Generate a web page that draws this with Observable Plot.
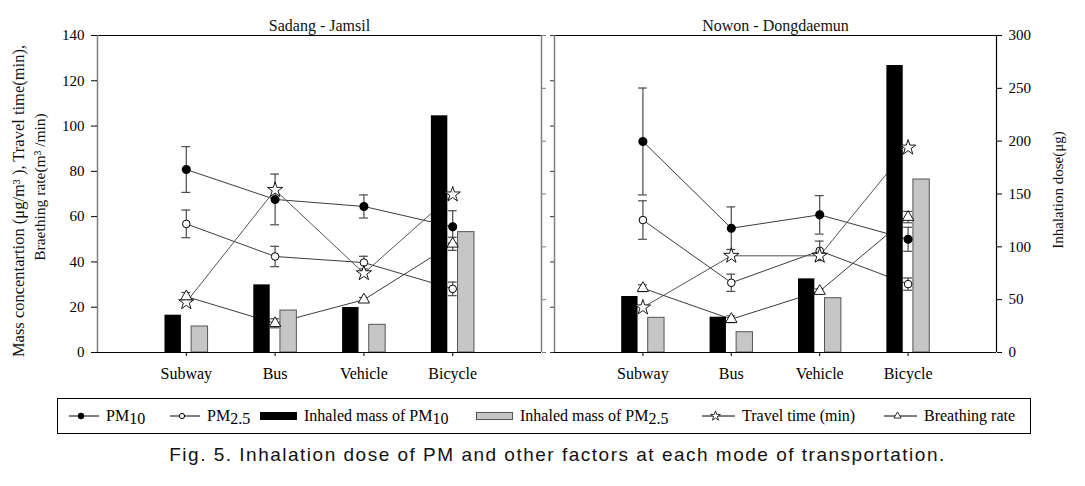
<!DOCTYPE html>
<html>
<head>
<meta charset="utf-8">
<script src="https://cdn.jsdelivr.net/npm/d3@7"></script>
<script src="https://cdn.jsdelivr.net/npm/@observablehq/plot@0.6"></script>
<style>
  body { margin: 0; background: #fff; }
  #wrap { position: relative; width: 1085px; height: 486px; overflow: hidden; background: #fff; font-family: "Liberation Serif", serif; }
  #left { position: absolute; left: 0; top: 0; }
  #right { position: absolute; left: 545px; top: 0; }
  #legend { position: absolute; left: 57px; top: 398px; width: 972px; height: 34px; border: 1px solid #000;
            font-size: 16px; font-family: "Liberation Serif", serif; color: #000; box-sizing: content-box; }
  #legend .item { position: absolute; top: 0; height: 34px; display: flex; align-items: center; white-space: nowrap; }
  #legend .sub { position: relative; top: 3px; }
  #caption { position: absolute; left: 30px; top: 444px; width: 1055px; text-align: center; font-family: "Liberation Sans", sans-serif;
             font-size: 19px; letter-spacing: 1.5px; color: #111; }
</style>
</head>
<body>
<div id="wrap">
  <div id="left"></div>
  <div id="right"></div>
  <div id="legend"></div>
  <div id="caption">Fig. 5. Inhalation dose of PM and other factors at each mode of transportation.</div>
</div>
<script>
// ---------- data ----------
const categories = ["Subway", "Bus", "Vehicle", "Bicycle"];
const leftTicks = [0, 20, 40, 60, 80, 100, 120, 140];
const doseTicks = [0, 50, 100, 150, 200, 250, 300];

// Sadang - Jamsil
const sjPM10 = [80.8, 67.6, 64.5, 55.5];
const sjPM10Err = [10.1, 11.2, 5.1, 7.1];
const sjPM25 = [56.8, 42.4, 39.7, 28.1];
const sjPM25Err = [6.1, 4.5, 2.8, 3.0];
const sjTravel = [22.2, 71.8, 35.0, 69.8];
const sjBreath = [24.7, 12.9, 23.3, 48.0];
const sjBreathErr = [1.8, 2.0, 1.0, 2.9];
const sjDosePM10 = [35.3, 64.0, 42.6, 224.0];
const sjDosePM25 = [24.6, 39.7, 26.2, 113.9];

// Nowon - Dongdaemun
const ndPM10 = [93.2, 54.9, 60.8, 50.0];
const ndPM10Err = [23.6, 9.4, 8.5, 5.3];
const ndPM25 = [58.5, 30.8, 44.9, 30.2];
const ndPM25Err = [8.5, 3.8, 4.3, 2.7];
const ndTravel = [19.9, 42.7, 42.7, 90.5];
const ndBreath = [28.4, 14.7, 27.1, 59.8];
const ndBreathErr = [1.5, 1.5, 1.0, 2.5];
const ndDosePM10 = [53.0, 33.4, 69.7, 271.6];
const ndDosePM25 = [32.8, 19.2, 51.4, 163.7];

// ---------- drawing ----------
const K = 140 / 300; // dose axis (0-300) mapped onto the left axis (0-140)
const lineColor = "#3c3c3c";
const errColor = "#4a4a4a";
const capW = 0.05;

function rowsOf(s) {
  return categories.map((c, i) => ({
    pos: i + 1, cat: c,
    pm10: s.pm10[i], pm10Err: s.pm10Err[i],
    pm25: s.pm25[i], pm25Err: s.pm25Err[i],
    travel: s.travel[i],
    breath: s.breath[i], breathErr: s.breathErr[i],
    dose10: s.dose10[i] * K, dose25: s.dose25[i] * K
  }));
}

function errorBars(rows, v, e) {
  return [
    Plot.ruleX(rows, {x: "pos", y1: d => d[v] - d[e], y2: d => d[v] + d[e], stroke: errColor, strokeWidth: 1.2}),
    Plot.ruleY(rows, {y: d => d[v] + d[e], x1: d => d.pos - capW, x2: d => d.pos + capW, stroke: errColor, strokeWidth: 1.2}),
    Plot.ruleY(rows, {y: d => d[v] - d[e], x1: d => d.pos - capW, x2: d => d.pos + capW, stroke: errColor, strokeWidth: 1.2})
  ];
}

function panel(s, side) {
  const rows = rowsOf(s);
  const isLeft = side === "left";
  const marks = [
    // series lines (drawn under the bars)
    Plot.line(rows, {x: "pos", y: "pm10", stroke: lineColor, strokeWidth: 1}),
    Plot.line(rows, {x: "pos", y: "pm25", stroke: lineColor, strokeWidth: 1}),
    Plot.line(rows, {x: "pos", y: "travel", stroke: "#555", strokeWidth: 1}),
    Plot.line(rows, {x: "pos", y: "breath", stroke: lineColor, strokeWidth: 1}),
    // inhaled mass bars (right axis)
    Plot.rectY(rows, {x1: d => d.pos - 0.24, x2: d => d.pos - 0.055, y1: 0, y2: "dose10", fill: "#000"}),
    Plot.rectY(rows, {x1: d => d.pos + 0.06, x2: d => d.pos + 0.245, y1: 0, y2: "dose25", fill: "#c6c6c6", stroke: "#555", strokeWidth: 1}),
    // error bars
    ...errorBars(rows, "pm10", "pm10Err"),
    ...errorBars(rows, "pm25", "pm25Err"),
    ...errorBars(rows, "breath", "breathErr"),
    // markers
    Plot.dot(rows, {x: "pos", y: "pm10", r: 3.8, fill: "#000", stroke: "#000"}),
    Plot.dot(rows, {x: "pos", y: "pm25", r: 3.8, fill: "#fff", stroke: "#000", strokeWidth: 1}),
    Plot.dot(rows, {x: "pos", y: "travel", symbol: "star", r: 4.8, fill: "#fff", stroke: "#000", strokeWidth: 0.9}),
    Plot.dot(rows, {x: "pos", y: "breath", symbol: "triangle", r: 4.2, fill: "#fff", stroke: "#000", strokeWidth: 0.9}),
    // frame
    Plot.ruleY([0], {stroke: "#000", strokeWidth: 1.2}),
    Plot.ruleY([140], {stroke: "#000", strokeWidth: 1.2}),
    Plot.axisX({ticks: [1, 2, 3, 4], tickFormat: p => categories[p - 1], tickSize: 4, tickPadding: 11, fontSize: 16, label: null}),
    Plot.text([s.title], {frameAnchor: "top", dy: -16, fontSize: 16, fill: "#111"})
  ];
  if (isLeft) {
    marks.push(
      Plot.ruleX([0], {stroke: "#808080", strokeWidth: 1.5}),
      Plot.axisY({anchor: "left", ticks: leftTicks, tickSize: 6, tickPadding: 7, fontSize: 15, label: null}),
      Plot.ruleX([5], {stroke: "#808080", strokeWidth: 1.5}),
      Plot.axisY({anchor: "right", ticks: doseTicks.map(d => d * K), tickFormat: () => "", tickSize: 4, stroke: "#808080", label: null}),
      Plot.text(["Mass concentartion (μg/m³ ), Travel time(min),"], {frameAnchor: "left", textAnchor: "middle", dx: -79, dy: 7, rotate: -90, fontSize: 16.5, fill: "#111"}),
      Plot.text(["Braething rate(m³ /min)"], {frameAnchor: "left", textAnchor: "middle", dx: -57, dy: -7, rotate: -90, fontSize: 15.5, fill: "#111"})
    );
  } else {
    marks.push(
      Plot.ruleX([0], {stroke: "#808080", strokeWidth: 1.5}),
      Plot.axisY({anchor: "left", ticks: leftTicks, tickSize: 4, tickFormat: () => "", stroke: "#333", label: null}),
      Plot.ruleX([5], {stroke: "#000", strokeWidth: 1.2}),
      Plot.axisY({anchor: "right", ticks: doseTicks.map(d => d * K), tickFormat: v => String(Math.round(v / K)), tickSize: 5, tickPadding: 7, fontSize: 15, label: null}),
      Plot.text(["Inhalation dose(μg)"], {frameAnchor: "right", textAnchor: "middle", dx: 62, dy: -4, rotate: -90, fontSize: 15, fill: "#111"})
    );
  }
  return Plot.plot({
    width: isLeft ? 545 : 540,
    height: 390,
    marginLeft: isLeft ? 97 : 9,
    marginRight: isLeft ? 4 : 89,
    marginTop: 35,
    marginBottom: 38,
    x: {domain: [0, 5]},
    y: {domain: [0, 140]},
    style: {fontFamily: "Liberation Serif, serif", fontSize: "15px", color: "#000", background: "transparent", overflow: "visible"},
    marks
  });
}

document.getElementById("left").append(panel({
  title: "Sadang - Jamsil",
  pm10: sjPM10, pm10Err: sjPM10Err, pm25: sjPM25, pm25Err: sjPM25Err,
  travel: sjTravel, breath: sjBreath, breathErr: sjBreathErr,
  dose10: sjDosePM10, dose25: sjDosePM25
}, "left"));

document.getElementById("right").append(panel({
  title: "Nowon - Dongdaemun",
  pm10: ndPM10, pm10Err: ndPM10Err, pm25: ndPM25, pm25Err: ndPM25Err,
  travel: ndTravel, breath: ndBreath, breathErr: ndBreathErr,
  dose10: ndDosePM10, dose25: ndDosePM25
}, "right"));

// ---------- legend ----------
const legendItems = [
  {kind: "line", marker: "filled", html: 'PM<span class="sub">10</span>', left: 11, sw: 30},
  {kind: "line", marker: "open", html: 'PM<span class="sub">2.5</span>', left: 112, sw: 30},
  {kind: "rect", fill: "#000", html: 'Inhaled mass of PM<span class="sub">10</span>', left: 202, sw: 37},
  {kind: "rect", fill: "#c6c6c6", html: 'Inhaled mass of PM<span class="sub">2.5</span>', left: 418, sw: 37},
  {kind: "line", marker: "star", html: 'Travel time (min)', left: 644, sw: 33},
  {kind: "line", marker: "triangle", html: 'Breathing rate', left: 826, sw: 33}
];
const legend = d3.select("#legend");
legendItems.forEach(it => {
  const item = legend.append("div").attr("class", "item").style("left", it.left + "px");
  const svg = item.append("svg").attr("width", it.sw).attr("height", 14).style("margin-right", "7px");
  if (it.kind === "rect") {
    svg.append("rect").attr("x", 0.5).attr("y", 3.5).attr("width", it.sw - 1).attr("height", 7)
      .attr("fill", it.fill).attr("stroke", it.fill === "#000" ? "#000" : "#555");
  } else {
    const cx = it.sw / 2 - 3;
    svg.append("line").attr("x1", 0).attr("x2", it.sw).attr("y1", 7).attr("y2", 7).attr("stroke", "#000");
    if (it.marker === "filled") svg.append("circle").attr("cx", cx).attr("cy", 7).attr("r", 3.2).attr("fill", "#000");
    if (it.marker === "open") svg.append("circle").attr("cx", cx).attr("cy", 7).attr("r", 2.6).attr("fill", "#fff").attr("stroke", "#000");
    if (it.marker === "star") svg.append("path").attr("transform", `translate(${cx},7)`)
      .attr("d", d3.symbol(d3.symbolStar, 30)()).attr("fill", "#fff").attr("stroke", "#000").attr("stroke-width", 0.8);
    if (it.marker === "triangle") svg.append("path").attr("transform", `translate(${cx},7)`)
      .attr("d", d3.symbol(d3.symbolTriangle, 22)()).attr("fill", "#fff").attr("stroke", "#000").attr("stroke-width", 0.8);
  }
  item.append("span").html(it.html);
});
</script>
</body>
</html>
